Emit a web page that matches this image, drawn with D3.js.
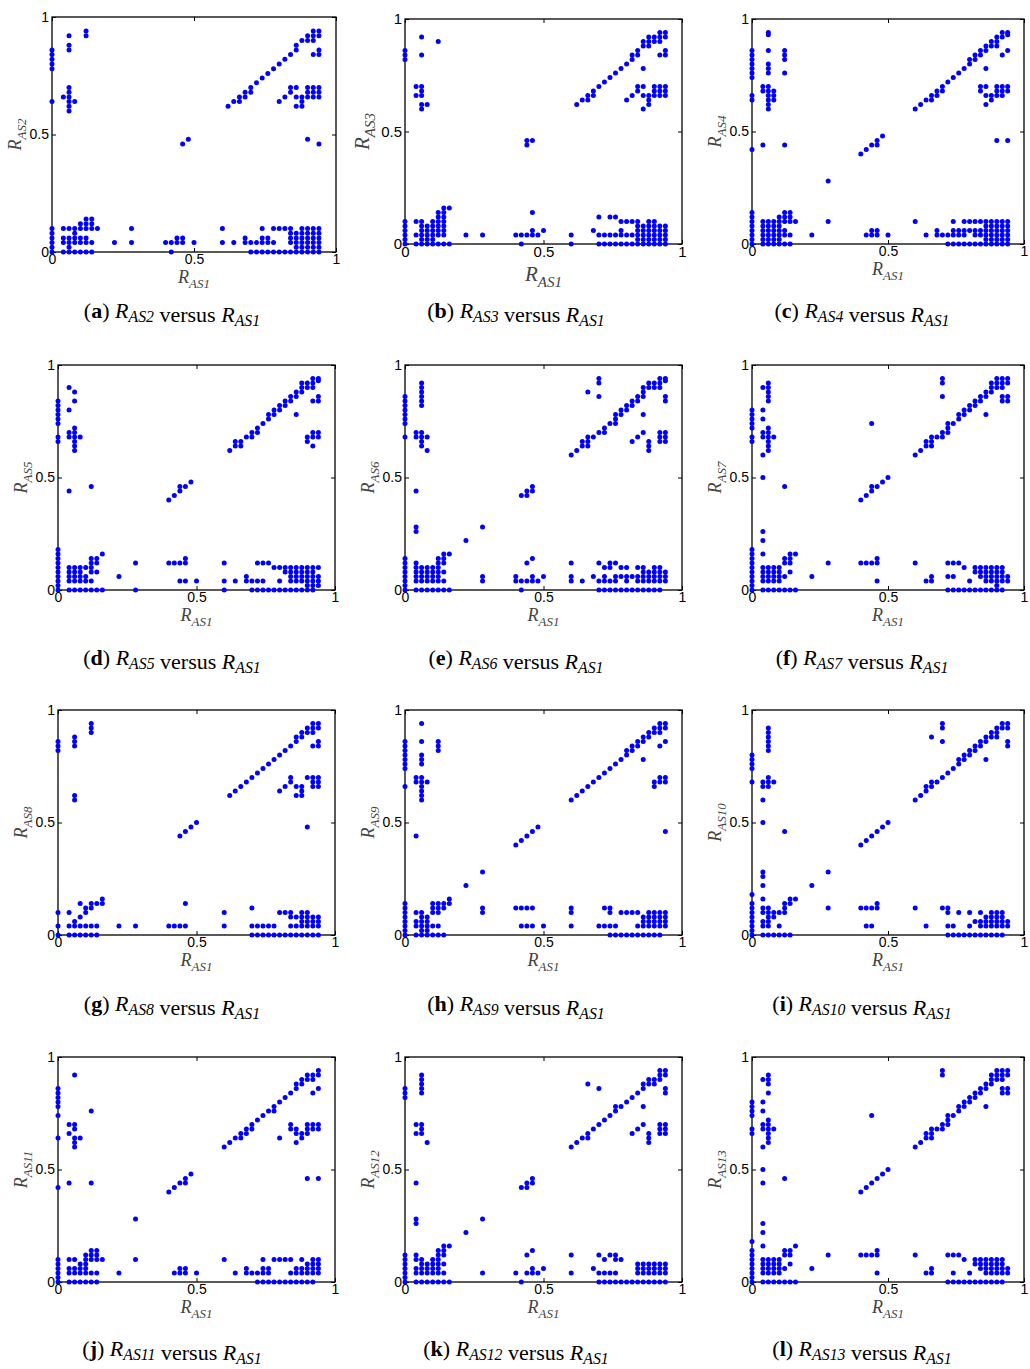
<!DOCTYPE html>
<html>
<head>
<meta charset="utf-8">
<script src="https://cdn.jsdelivr.net/npm/d3@7"></script>
<style>
  body { margin: 0; background: #fff; }
</style>
</head>
<body>
<div id="chart"></div>
<script>
width = 1030
height = 1369

// each entry: [R_AS1 x100, [R_ASk x100 ...]]
const rAS2 = [
  [0,[0,2,4,6,8,10,64,78,80,82,84,86]], [4,[0,4,6,10,66]],
  [6,[0,2,4,6,10,60,62,64,66,68,70,86,88,92]], [8,[0,4,6,8,10,64]],
  [10,[0,4,6,10,12]], [12,[0,4,6,10,12,14,92,94]], [14,[0,4,10,12,14]],
  [16,[10]], [22,[4]], [28,[4,10]], [40,[4]], [42,[0,4]], [44,[4,6]],
  [46,[4,6,46]], [48,[48]], [50,[4]], [60,[4,10]], [62,[62]], [64,[4,64]],
  [66,[64,66]], [68,[4,6,66,68]], [70,[0,4,68,70]], [72,[0,4,72]],
  [74,[0,4,6,10,74]], [76,[0,4,6,76]], [78,[0,4,10,78]], [80,[0,10,64,80]],
  [82,[0,10,66,82]], [84,[0,4,6,8,10,68,70,84]], [86,[0,2,4,6,8,62,66,70,86,88]],
  [88,[0,2,4,6,8,10,62,64,66,90]], [90,[0,2,4,6,8,10,48,66,68,70,90,92]],
  [92,[0,2,4,6,8,10,66,68,70,84,90,92,94]], [94,[0,2,4,6,8,10,46,66,68,70,84,86,92,94]]
];
const rAS3 = [
  [0,[0,2,4,6,8,10,82,84,86]], [4,[0,4,10,66,70]],
  [6,[0,2,4,6,8,10,60,62,66,68,70,84,92]], [8,[0,2,4,6,8,62]],
  [10,[0,2,4,6,8,10]], [12,[0,4,6,8,10,12,14,90]], [14,[0,4,6,8,10,12,14,16]],
  [16,[0,16]], [22,[4]], [28,[4]], [40,[4]], [42,[0,4]], [44,[4,44,46]],
  [46,[4,6,14,46]], [48,[4]], [50,[6]], [60,[0,4]], [62,[62]], [64,[64]],
  [66,[64,66]], [68,[6,66,68]], [70,[0,4,12,70]], [72,[0,4,72]],
  [74,[0,4,12,74]], [76,[0,4,12,76]], [78,[0,4,6,10,78]], [80,[0,4,10,64,80]],
  [82,[0,4,10,66,82,84]], [84,[0,2,4,6,8,10,68,70,84,86]],
  [86,[0,2,4,6,8,60,66,70,78,88,90]], [88,[0,2,4,6,8,10,62,64,66,88,90,92]],
  [90,[0,2,4,6,8,10,66,68,70,90,92]], [92,[0,2,4,6,8,66,68,70,84,90,92,94]],
  [94,[0,2,4,6,8,66,68,70,84,86,92,94]]
];
const rAS4 = [
  [0,[0,2,4,6,8,10,12,14,42,64,66,74,76,78,80,82,84,86]], [4,[0,2,4,6,8,10,44,68,70]],
  [6,[0,2,4,6,8,10,60,62,64,66,68,70,76,78,80,86,93,94]], [8,[0,2,4,6,8,10,64,66,68]],
  [10,[0,2,4,6,8,10,12]], [12,[0,4,6,10,12,14,44,76,82,84,86]], [14,[0,4,10,12,14]],
  [16,[10]], [22,[4]], [28,[10,28]], [40,[40]], [42,[4,42]], [44,[4,6,44]],
  [46,[4,6,44,46]], [48,[48]], [50,[4]], [60,[10,60]], [62,[62]], [64,[4,64]],
  [66,[64,66]], [68,[4,6,66,68]], [70,[4,68,70]], [72,[0,4,72]],
  [74,[0,4,6,10,74]], [76,[0,4,6,76]], [78,[0,4,6,10,78]], [80,[0,6,10,80,82]],
  [82,[0,4,6,10,82,84]], [84,[0,4,6,10,68,70,84,86]],
  [86,[0,2,4,6,8,10,62,66,70,78,86,88]], [88,[0,2,4,6,8,10,64,66,88,90]],
  [90,[0,2,4,6,8,10,46,66,68,70,88,90,92]], [92,[0,2,4,6,8,10,66,68,70,84,92,94]],
  [94,[0,2,4,6,8,10,46,68,70,86,93,94]]
];
const rAS5 = [
  [0,[0,2,4,6,8,10,12,14,16,18,66,68,74,76,78,80,82,84]], [4,[0,4,6,8,10,44,68,70,80,90]],
  [6,[0,4,6,8,10,62,64,66,68,70,72,84,88]], [8,[0,4,6,8,10,68]],
  [10,[0,4,6,10]], [12,[0,4,8,10,12,14,46]], [14,[0,8,12,14]],
  [16,[0,16]], [22,[6]], [28,[0,12]], [40,[12,40]], [42,[12,42]], [44,[4,12,44,46]],
  [46,[4,12,14,46]], [48,[48]], [50,[4]], [60,[0,4,12]], [62,[62]], [64,[4,64,66]],
  [66,[64,66]], [68,[4,6,68]], [70,[0,4,68,70]], [72,[0,4,12,70,72]],
  [74,[0,4,12,74]], [76,[0,12,76,78]], [78,[0,10,78,80]], [80,[0,4,10,80,82]],
  [82,[0,8,10,82,84]], [84,[0,4,6,8,10,84,86]], [86,[0,4,6,8,10,78,86,88]],
  [88,[0,4,6,8,10,88,90,92]], [90,[0,2,4,6,8,10,66,68,90,92]],
  [92,[0,2,4,6,8,10,64,68,70,84,90,92,94]], [94,[2,4,6,10,68,70,84,86,93,94]]
];
const rAS6 = [
  [0,[0,2,4,6,8,10,12,14,68,74,76,78,80,82,84,86]], [4,[0,4,6,8,10,12,26,28,44,68,70]],
  [6,[0,4,6,8,10,64,66,68,70,82,84,86,88,90,92]], [8,[0,4,6,8,10,62,68]],
  [10,[0,4,6,8,10]], [12,[0,4,6,8,10,12,14]], [14,[0,4,8,12,14,16]],
  [16,[0,16]], [22,[22]], [28,[4,6,28]], [40,[4,6]], [42,[0,4,42]], [44,[4,12,42,44]],
  [46,[4,6,14,44,46]], [48,[4]], [50,[6]], [60,[4,6,12,60]], [62,[62]], [64,[4,64,66]],
  [66,[64,66,68,88]], [68,[6,68]], [70,[0,4,12,70,86,92,94]], [72,[0,4,6,10,70,72]],
  [74,[0,4,10,12,74]], [76,[0,4,6,12,74,76,78]], [78,[0,6,10,78,80]], [80,[0,4,6,10,80,82]],
  [82,[0,6,66,82,84]], [84,[0,4,6,10,68,84,86]], [86,[0,4,6,8,10,70,78,86,88,90]],
  [88,[0,4,6,8,62,64,66,90,92]], [90,[0,4,6,8,10,90,92]],
  [92,[0,4,6,8,10,66,68,70,90,92,94]], [94,[4,6,8,66,68,70,84,86,93,94]]
];
const rAS7 = [
  [0,[0,2,4,6,8,10,12,14,16,18,66,68,72,74,76,78,80]], [4,[0,4,6,8,10,16,22,26,50,60,68,70,76,80,90]],
  [6,[0,4,6,8,10,62,64,66,68,70,72,84,86,88,90,92]], [8,[0,4,6,8,10,68]],
  [10,[0,4,6,8,10]], [12,[0,6,12,14,46]], [14,[0,8,12,14,16]],
  [16,[0,16]], [22,[6]], [28,[12]], [40,[12,40]], [42,[12,42]], [44,[12,44,46,74]],
  [46,[4,12,14,46]], [48,[48]], [50,[50]], [60,[12,60]], [62,[62]], [64,[4,64,66]],
  [66,[4,6,64,66,68]], [68,[68]], [70,[68,70,86,92,94]], [72,[0,6,12,70,72,74]],
  [74,[0,6,12,74]], [76,[0,12,76,78]], [78,[0,10,78,80]], [80,[0,4,80,82]],
  [82,[0,8,10,82,84]], [84,[0,6,8,10,84,86]], [86,[0,4,6,8,10,78,86,88]],
  [88,[0,4,6,8,10,88,90,92]], [90,[0,2,4,6,8,10,90,92,94]],
  [92,[0,4,6,8,10,84,86,90,92,94]], [94,[4,6,84,86,92,94]]
];
const rAS8 = [
  [0,[0,4,10,82,84,86]], [4,[0,4,10]], [6,[0,4,6,60,62,84,86,88]], [8,[0,4,8,14]],
  [10,[0,4,10,12]], [12,[0,4,12,14,90,92,94]], [14,[0,4,14]],
  [16,[14,16]], [22,[4]], [28,[4]], [40,[4]], [42,[4]], [44,[4,44]],
  [46,[4,14,46]], [48,[48]], [50,[50]], [60,[4,10]], [62,[62]], [64,[64]],
  [66,[66]], [68,[68]], [70,[0,4,12,70]], [72,[0,4,72]],
  [74,[0,4,74]], [76,[0,4,76]], [78,[0,4,78]], [80,[0,10,64,80]],
  [82,[0,10,66,82]], [84,[0,4,8,10,68,70,84]], [86,[0,4,8,62,66,86,88]],
  [88,[0,4,6,8,10,62,64,66,88,90]], [90,[0,4,6,8,10,48,70,90,92]],
  [92,[0,4,6,8,66,68,70,84,90,92,94]], [94,[0,4,6,8,66,68,70,84,86,92,94]]
];
const rAS9 = [
  [0,[0,2,4,6,8,10,12,14,66,74,76,78,80,82,84,86]], [4,[0,4,6,10,44,68,70]],
  [6,[0,2,4,6,8,10,60,62,64,66,68,70,76,78,80,86,94]], [8,[0,2,4,6,8,68]],
  [10,[0,4,10,12,14]], [12,[0,4,10,12,14,82,84,86]], [14,[0,12,14]],
  [16,[14,16]], [22,[22]], [28,[10,12,28]], [40,[12,40]], [42,[4,12,42]], [44,[4,12,44]],
  [46,[4,12,46]], [48,[48]], [50,[4]], [60,[4,10,12,60]], [62,[62]], [64,[64]],
  [66,[66]], [68,[68]], [70,[4,70]], [72,[4,12,72]],
  [74,[0,4,10,12,74]], [76,[0,4,76]], [78,[0,10,78]], [80,[0,10,80,82]],
  [82,[0,10,82,84]], [84,[0,4,10,84,86]], [86,[0,4,6,8,78,86,88]],
  [88,[0,4,6,8,10,88,90]], [90,[0,4,6,8,10,66,68,90,92]],
  [92,[0,4,6,8,10,68,70,84,90,92,94]], [94,[4,6,8,10,46,68,70,86,92,94]]
];
const rAS10 = [
  [0,[0,2,4,6,8,10,12,14,18,68,74,76,78,80]], [4,[0,4,6,10,12,16,22,26,28,50,60,66,68]],
  [6,[0,4,6,8,10,12,66,68,70,82,84,86,88,90,92]], [8,[0,8,10,68]],
  [10,[0,4,10]], [12,[0,10,12,14,46]], [14,[0,14,16]],
  [16,[16]], [22,[22]], [28,[12,28]], [40,[12,40]], [42,[4,12,42]], [44,[4,12,44]],
  [46,[12,14,46]], [48,[48]], [50,[50]], [60,[12,60]], [62,[62]], [64,[4,64,66]],
  [66,[66,68,88]], [68,[68]], [70,[12,70,86,92,94]], [72,[0,4,10,12,72]],
  [74,[0,4,74]], [76,[0,10,76,78]], [78,[0,78,80]], [80,[0,4,10,80,82]],
  [82,[0,6,82,84]], [84,[0,4,6,10,84,86]], [86,[0,4,6,8,78,86,88]],
  [88,[0,4,6,8,10,88,90]], [90,[0,4,6,8,10,88,90,92]],
  [92,[0,4,6,8,10,92,94]], [94,[4,6,84,86,92,94]]
];
const rAS11 = [
  [0,[0,2,4,6,8,10,42,64,74,78,80,82,84,86]], [4,[0,4,6,10,44,66,70]],
  [6,[0,4,6,10,60,62,64,68,70,92]], [8,[0,4,6,8,64]],
  [10,[0,4,6,8,10,12]], [12,[0,4,10,12,14,44,76]], [14,[0,4,10,12,14]],
  [16,[10]], [22,[4]], [28,[10,28]], [40,[40]], [42,[4,42]], [44,[4,6,44]],
  [46,[4,6,44,46]], [48,[48]], [50,[4]], [60,[10,60]], [62,[62]], [64,[4,64]],
  [66,[64,66]], [68,[4,6,66,68]], [70,[4,68,70]], [72,[0,4,72]],
  [74,[0,4,6,10,74]], [76,[0,4,6,76]], [78,[0,10,76,78]], [80,[0,10,64,80]],
  [82,[0,10,82]], [84,[0,4,10,68,70,84]], [86,[0,4,6,62,66,68,86,88]],
  [88,[0,4,6,10,64,66,88,90]], [90,[0,4,6,8,46,66,68,70,90,92]],
  [92,[0,4,6,8,10,68,70,84,90,92]], [94,[4,6,8,10,46,68,70,86,92,94]]
];
const rAS12 = [
  [0,[0,2,4,6,8,10,12,82,84,86]], [4,[0,4,6,10,12,26,28,44,66,70]],
  [6,[0,4,6,8,10,66,68,70,84,86,88,90,92]], [8,[0,4,6,8,62]],
  [10,[0,4,6,8,10]], [12,[0,4,6,8,10,12,14]], [14,[0,4,8,12,14,16]],
  [16,[0,16]], [22,[22]], [28,[4,28]], [40,[4]], [42,[0,42]], [44,[4,12,42,44]],
  [46,[4,6,14,44,46]], [48,[4]], [50,[6]], [60,[4,12,60]], [62,[62]], [64,[64]],
  [66,[64,66,88]], [68,[6,68]], [70,[0,4,12,70,86]], [72,[0,4,10,72]],
  [74,[0,4,12,74]], [76,[0,4,10,12,76,78]], [78,[0,10,78]], [80,[0,80]],
  [82,[0,66,82]], [84,[0,4,6,8,68,84]], [86,[0,4,6,8,70,78,86,88]],
  [88,[0,4,6,8,62,64,66,88,90]], [90,[0,4,6,8,88,90]],
  [92,[0,4,6,8,66,68,70,90,92,94]], [94,[0,4,6,8,66,68,70,84,86,92,94]]
];
const rAS13 = [
  [0,[0,2,4,6,8,10,12,14,18,66,68,74,76,78,80]], [4,[0,4,6,8,10,16,22,26,44,50,60,68,70,76,80,90]],
  [6,[0,4,6,8,10,62,64,66,68,70,72,84,88,90,92]], [8,[0,4,6,8,10,68]],
  [10,[0,4,6,8,10]], [12,[0,6,12,14,46]], [14,[0,8,12,14]],
  [16,[0,16]], [22,[6]], [28,[12]], [40,[12,40]], [42,[12,42]], [44,[12,44,74]],
  [46,[4,12,14,46]], [48,[48]], [50,[50]], [60,[12,60]], [62,[62]], [64,[4,64,66]],
  [66,[4,6,64,66,68]], [68,[68]], [70,[68,70,92,94]], [72,[0,12,70,72,74]],
  [74,[0,4,12,74]], [76,[0,12,76,78]], [78,[0,10,78,80]], [80,[0,4,80,82]],
  [82,[0,8,10,82,84]], [84,[0,6,8,10,84,86]], [86,[0,4,6,8,10,78,86,88]],
  [88,[0,4,6,8,10,88,90,92]], [90,[0,4,6,8,10,90,92,94]],
  [92,[0,4,6,8,10,84,86,90,92,94]], [94,[4,6,84,86,92,94]]
];

const seriesData = [rAS2, rAS3, rAS4, rAS5, rAS6, rAS7, rAS8, rAS9, rAS10, rAS11, rAS12, rAS13];
const seriesNames = ["AS2","AS3","AS4","AS5","AS6","AS7","AS8","AS9","AS10","AS11","AS12","AS13"];
const panelLetters = ["a","b","c","d","e","f","g","h","i","j","k","l"];
const xName = "AS1";
const tickValues = [0, 0.5, 1];
const tickLabels = ["0", "0.5", "1"];

// layout of the 4x3 grid of subfigures
const colLeft = [58, 405, 752], colW = [277, 277, 272];
const rowTop = [19, 365, 710, 1057], boxH = 225;
const captionX = [172, 516, 862], captionY = [318, 665, 1011, 1356];

const svg = d3.select("#chart")
  .append("svg")
    .attr("width", width)
    .attr("height", height);

// italic R with a subscript, used for axis titles and captions
function rLabel(sel, sub, size, drop) {
  const d = size * (drop || 0.28);
  sel.append("tspan").attr("font-style", "italic").text("R");
  sel.append("tspan").attr("font-style", "italic")
     .attr("font-size", size * 0.72).attr("dy", d).text(sub);
  sel.append("tspan").attr("dy", -d).text("");
}

seriesData.forEach((cols, i) => {
  const col = i % 3, row = Math.floor(i / 3);
  let box = {x: colLeft[col], y: rowTop[row], w: colW[col], h: boxH};
  if (i === 0) box = {x: 52, y: 17, w: 284, h: 235};   // first panel is drawn a bit larger
  const big = i === 1;
  const labelSize = big ? 21 : 18;
  const tickSize = big ? 15 : 14;

  const x = d3.scaleLinear().domain([0, 1]).range([0, box.w]);
  const y = d3.scaleLinear().domain([0, 1]).range([box.h, 0]);

  const g = svg.append("g").attr("transform", `translate(${box.x},${box.y})`);

  const fmt = d => tickLabels[tickValues.indexOf(d)];

  const axes = [
    g.append("g").attr("transform", `translate(0,${box.h})`)
      .call(d3.axisBottom(x).tickValues(tickValues).tickFormat(fmt).tickSizeInner(-4).tickSizeOuter(0).tickPadding(2)),
    g.append("g")
      .call(d3.axisLeft(y).tickValues(tickValues).tickFormat(fmt).tickSizeInner(-4).tickSizeOuter(0).tickPadding(3)),
    g.append("g")
      .call(d3.axisTop(x).tickValues(tickValues).tickFormat("").tickSizeInner(-4).tickSizeOuter(0)),
    g.append("g").attr("transform", `translate(${box.w},0)`)
      .call(d3.axisRight(y).tickValues(tickValues).tickFormat("").tickSizeInner(-4).tickSizeOuter(0))
  ];
  axes.forEach(a => {
    a.select(".domain").remove();
    a.selectAll("line").attr("stroke", "#000").attr("stroke-width", 1);
    a.selectAll("text").attr("font-family", "'Liberation Sans', Arial, sans-serif")
      .attr("font-size", tickSize).attr("fill", "#000");
  });

  g.append("rect")
    .attr("width", box.w).attr("height", box.h)
    .attr("fill", "none").attr("stroke", "#000").attr("stroke-width", 1.3);

  const points = cols.flatMap(([xv, ys]) => ys.map(yv => [xv / 100, yv / 100]));
  g.selectAll(".dot")
    .data(points)
    .enter().append("circle")
      .attr("class", "dot")
      .attr("cx", d => x(d[0]))
      .attr("cy", d => y(d[1]))
      .attr("r", 2.5)
      .attr("fill", "#0000ff");

  // axis titles
  const xt = g.append("text")
    .attr("x", box.w / 2).attr("y", box.h + (big ? 37 : 31))
    .attr("text-anchor", "middle")
    .attr("font-family", "'Liberation Serif', 'Times New Roman', serif")
    .attr("font-size", labelSize).attr("fill", "#444");
  rLabel(xt, xName, labelSize);

  const yt = g.append("text")
    .attr("transform", `translate(${big ? -36 : -31},${box.h / 2}) rotate(-90)`)
    .attr("text-anchor", "middle")
    .attr("font-family", "'Liberation Serif', 'Times New Roman', serif")
    .attr("font-size", labelSize).attr("fill", "#444");
  rLabel(yt, seriesNames[i], labelSize);

  // caption under the subfigure
  const capSize = 22;
  const cap = svg.append("text")
    .attr("x", captionX[col]).attr("y", captionY[row])
    .attr("text-anchor", "middle")
    .attr("font-family", "'Liberation Serif', 'Times New Roman', serif")
    .attr("font-size", capSize).attr("fill", "#000");
  cap.append("tspan").text("(");
  cap.append("tspan").attr("font-weight", "bold").text(panelLetters[i]);
  cap.append("tspan").text(") ");
  rLabel(cap, seriesNames[i], capSize, 0.18);
  cap.append("tspan").text(" versus ");
  rLabel(cap, xName, capSize, 0.18);
});
</script>
</body>
</html>
